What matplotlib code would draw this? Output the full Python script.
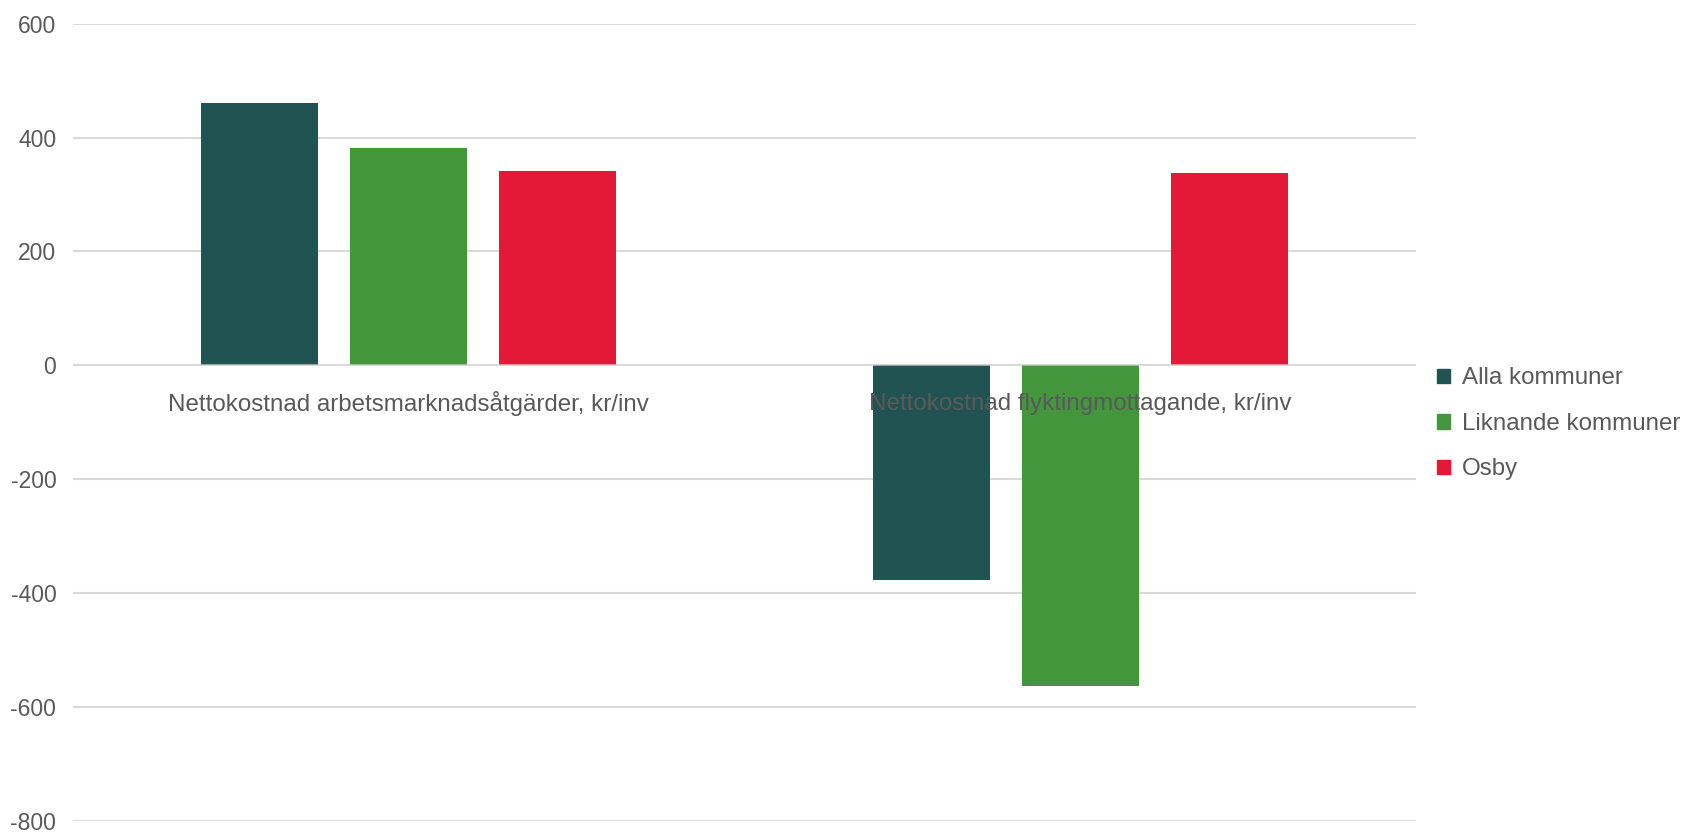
import matplotlib.pyplot as plt
import numpy as np
from matplotlib.patches import Patch

plt.rcParams['font.family'] = ['Liberation Sans', 'DejaVu Sans']

categories = ['Nettokostnad arbetsmarknadsåtgärder, kr/inv',
              'Nettokostnad flyktingmottagande, kr/inv']
series = ['Alla kommuner', 'Liknande kommuner', 'Osby']
alla = [460, -377]
liknande = [381, -563]
osby = [341, 337]
yticks = [-800, -600, -400, -200, 0, 200, 400, 600]

colors = ['#215352', '#44963c', '#e31937']
txtcol = '#595959'
fs = 17.4      # category labels + legend
fs_tick = 16.5

fig = plt.figure(figsize=(16.82, 8.32), dpi=100)
ax = fig.add_axes([0.0434, 0.0132, 0.7985, 0.9584])

x = np.arange(len(categories))
w = 0.174
off = 0.222
for i, vals in enumerate([alla, liknande, osby]):
    ax.bar(x + (i - 1) * off, vals, width=w, color=colors[i], zorder=3)

ax.set_xlim(-0.5, 1.5)
ax.set_ylim(-800, 600)
ax.set_yticks(yticks)
ax.set_yticklabels([str(v) for v in yticks], fontsize=fs_tick, color=txtcol)
ax.set_xticks([])
ax.grid(axis='y', color='#d9d9d9', linewidth=1.5, zorder=0)
ax.axhline(0, color='#d9d9d9', linewidth=1.5, zorder=4, alpha=0.6)
ax.tick_params(axis='y', length=0, pad=12)
for s in ax.spines.values():
    s.set_visible(False)

for i, c in enumerate(categories):
    ax.text(x[i], -67, c, ha='center', va='center', fontsize=fs, color=txtcol, zorder=5)

handles = [Patch(color=colors[i], label=series[i]) for i in range(3)]
fig.legend(handles=handles, loc='center left', bbox_to_anchor=(0.8543, 0.4905),
           frameon=False, fontsize=fs, handlelength=0.54, handleheight=0.54,
           handletextpad=0.5, labelspacing=0.97, borderpad=0, borderaxespad=0,
           labelcolor=txtcol)

plt.savefig('out.png', dpi=100)
